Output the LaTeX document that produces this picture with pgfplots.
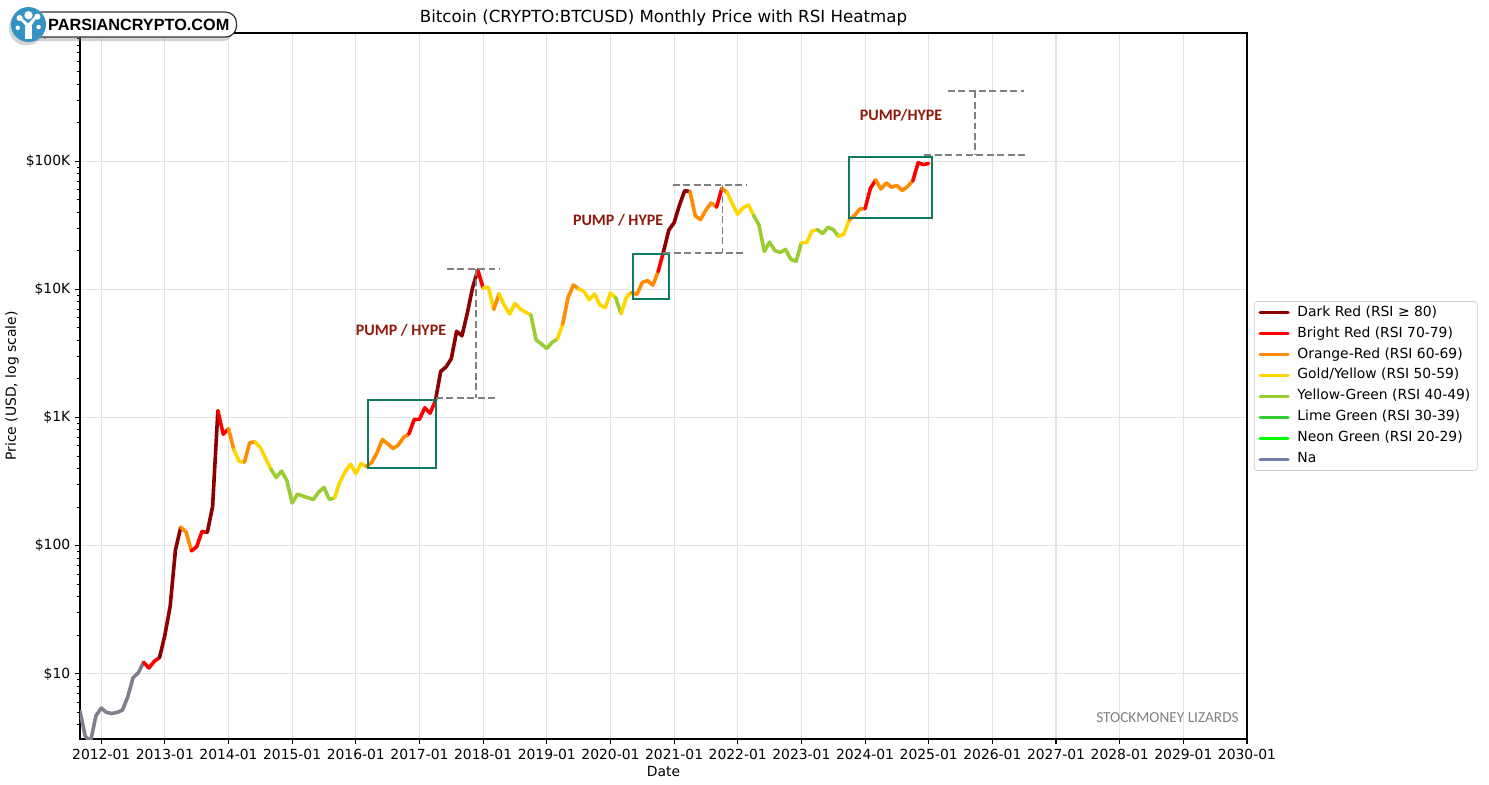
\documentclass[border=0pt]{standalone}
\usepackage{pgfplots}
\pgfplotsset{compat=1.18}
\usepackage{fontspec}
\setmainfont{DejaVu Sans}
\newfontfamily\calib{Carlito}
\newfontfamily\arialf{Liberation Sans}
\usetikzlibrary{shadows}

% RSI colours
\definecolor{rsiDR}{RGB}{139,0,0}
\definecolor{rsiR}{RGB}{255,0,0}
\definecolor{rsiO}{RGB}{255,140,0}
\definecolor{rsiY}{RGB}{255,215,0}
\definecolor{rsiYG}{RGB}{154,205,50}
\definecolor{rsiLG}{RGB}{50,205,50}
\definecolor{rsiNG}{RGB}{0,255,0}
\definecolor{rsiNA}{RGB}{126,128,140}
\definecolor{rsiNAleg}{RGB}{116,126,172}
\definecolor{boxc}{RGB}{16,122,96}
\definecolor{pumpc}{RGB}{140,25,10}
\definecolor{logoblue}{RGB}{52,146,196}

\begin{document}
\begin{tikzpicture}
\path[use as bounding box] (0,0) rectangle (1072.08pt,564.48pt);
\begin{axis}[
    at={(57.6pt,32.4pt)}, anchor=south west,
    width=840.24pt, height=508.32pt, scale only axis,
    ymode=log,
    xmin=2011.667, xmax=2030,
    ymin=3.1, ymax=1e6,
    xtick={2012,2013,...,2030},
    xticklabels={2012-01,2013-01,2014-01,2015-01,2016-01,2017-01,2018-01,2019-01,2020-01,2021-01,2022-01,2023-01,2024-01,2025-01,2026-01,2027-01,2028-01,2029-01,2030-01},
    ytick={10,100,1000,10000,100000,1000000},
    yticklabels={\$10,\$100,\$1K,\$10K,\$100K,\$1M},
    minor ytick={4,5,6,7,8,9,20,30,40,50,60,70,80,90,200,300,400,500,600,700,800,900,2000,3000,4000,5000,6000,7000,8000,9000,20000,30000,40000,50000,60000,70000,80000,90000,200000,300000,400000,500000,600000,700000,800000,900000},
    tick align=outside, tick pos=left,
    major tick length=3.5pt, minor tick length=2pt,
    every major tick/.style={black, line width=0.8pt},
    every minor tick/.style={black, line width=0.6pt},
    axis line style={line width=0.8pt},
    xmajorgrids, ymajorgrids,
    major grid style={black!11, line width=0.8pt},
    title={Bitcoin (CRYPTO:BTCUSD) Monthly Price with RSI Heatmap},
    every axis title/.style={at={(axis description cs:0.5,1.0212)}, anchor=center, font=\fontsize{12}{14}\selectfont},
    xlabel={Date},
    xlabel style={at={(axis description cs:0.5,-0.0467)}, anchor=center},
    ylabel={Price (USD, log scale)},
    ylabel style={at={(axis description cs:-0.0583,0.5)}, anchor=center},
    legend cell align=left,
    legend image code/.code={\draw[#1] (0pt,0pt) -- (20pt,0pt);},
    legend style={at={(axis description cs:1,0.5)}, anchor=west, xshift=5pt,
        draw=black!20, rounded corners=2pt, font=\fontsize{10}{12}\selectfont,
        inner xsep=3pt, inner ysep=1pt, row sep=1.1pt,
        /tikz/every odd column/.append style={column sep=3.5pt},
        nodes={text height=7.5pt, text depth=2.5pt, inner sep=2pt}},
    every axis plot/.append style={line width=2.6pt, line cap=round, line join=round},
]
\addlegendimage{rsiDR, line width=2.6pt}\addlegendentry{Dark Red (RSI ≥ 80)}
\addlegendimage{rsiR, line width=2.6pt}\addlegendentry{Bright Red (RSI 70-79)}
\addlegendimage{rsiO, line width=2.6pt}\addlegendentry{Orange-Red (RSI 60-69)}
\addlegendimage{rsiY, line width=2.6pt}\addlegendentry{Gold/Yellow (RSI 50-59)}
\addlegendimage{rsiYG, line width=2.6pt}\addlegendentry{Yellow-Green (RSI 40-49)}
\addlegendimage{rsiLG, line width=2.6pt}\addlegendentry{Lime Green (RSI 30-39)}
\addlegendimage{rsiNG, line width=2.6pt}\addlegendentry{Neon Green (RSI 20-29)}
\addlegendimage{rsiNAleg, line width=2.6pt}\addlegendentry{Na}

% monthly closes, one run per RSI colour
\addplot[rsiNA, forget plot] coordinates {(2011.667,5.1) (2011.750,3.25) (2011.833,2.97) (2011.917,4.7) (2012.000,5.4) (2012.083,5.0) (2012.167,4.9) (2012.250,5.0) (2012.333,5.2) (2012.417,6.6) (2012.500,9.3) (2012.583,10.2) (2012.667,12.3)};
\addplot[rsiR, forget plot] coordinates {(2012.667,12.3) (2012.750,11.1) (2012.833,12.5) (2012.917,13.4)};
\addplot[rsiDR, forget plot] coordinates {(2012.917,13.4) (2013.000,20) (2013.083,33.5) (2013.167,93) (2013.250,139)};
\addplot[rsiO, forget plot] coordinates {(2013.250,139) (2013.333,128) (2013.417,91)};
\addplot[rsiR, forget plot] coordinates {(2013.417,91) (2013.500,98) (2013.583,129) (2013.667,127)};
\addplot[rsiDR, forget plot] coordinates {(2013.667,127) (2013.750,202) (2013.833,1130)};
\addplot[rsiR, forget plot] coordinates {(2013.833,1130) (2013.917,740) (2014.000,816)};
\addplot[rsiO, forget plot] coordinates {(2014.000,816) (2014.083,562)};
\addplot[rsiY, forget plot] coordinates {(2014.083,562) (2014.167,456) (2014.250,448)};
\addplot[rsiO, forget plot] coordinates {(2014.250,448) (2014.333,635) (2014.417,645)};
\addplot[rsiY, forget plot] coordinates {(2014.417,645) (2014.500,583) (2014.583,480) (2014.667,395)};
\addplot[rsiYG, forget plot] coordinates {(2014.667,395) (2014.750,340) (2014.833,382) (2014.917,322) (2015.000,215) (2015.083,252) (2015.167,244) (2015.250,236) (2015.333,229) (2015.417,262) (2015.500,285) (2015.583,230) (2015.667,236)};
\addplot[rsiY, forget plot] coordinates {(2015.667,236) (2015.750,314) (2015.833,378) (2015.917,432) (2016.000,366) (2016.083,437) (2016.167,414)};
\addplot[rsiO, forget plot] coordinates {(2016.167,414) (2016.250,446) (2016.333,530) (2016.417,672) (2016.500,624) (2016.583,573) (2016.667,609) (2016.750,699) (2016.833,742)};
\addplot[rsiR, forget plot] coordinates {(2016.833,742) (2016.917,964) (2017.000,968) (2017.083,1190) (2017.167,1080) (2017.250,1348)};
\addplot[rsiDR, forget plot] coordinates {(2017.250,1348) (2017.333,2286) (2017.417,2480) (2017.500,2875) (2017.583,4703) (2017.667,4338) (2017.750,6468) (2017.833,10233) (2017.917,14156)};
\addplot[rsiR, forget plot] coordinates {(2017.917,14156) (2018.000,10221)};
\addplot[rsiY, forget plot] coordinates {(2018.000,10221) (2018.083,10397) (2018.167,6973)};
\addplot[rsiO, forget plot] coordinates {(2018.167,6973) (2018.250,9240)};
\addplot[rsiY, forget plot] coordinates {(2018.250,9240) (2018.333,7494) (2018.417,6404) (2018.500,7780) (2018.583,7037) (2018.667,6625) (2018.750,6317)};
\addplot[rsiYG, forget plot] coordinates {(2018.750,6317) (2018.833,4017) (2018.917,3742) (2019.000,3457) (2019.083,3854) (2019.167,4105)};
\addplot[rsiY, forget plot] coordinates {(2019.167,4105) (2019.250,5350)};
\addplot[rsiO, forget plot] coordinates {(2019.250,5350) (2019.333,8574) (2019.417,10817) (2019.500,10085)};
\addplot[rsiY, forget plot] coordinates {(2019.500,10085) (2019.583,9630) (2019.667,8293) (2019.750,9199) (2019.833,7569) (2019.917,7193) (2020.000,9350) (2020.083,8599)};
\addplot[rsiYG, forget plot] coordinates {(2020.083,8599) (2020.167,6438)};
\addplot[rsiY, forget plot] coordinates {(2020.167,6438) (2020.250,8658) (2020.333,9461)};
\addplot[rsiO, forget plot] coordinates {(2020.333,9461) (2020.417,9137) (2020.500,11323) (2020.583,11681) (2020.667,10784) (2020.750,13781)};
\addplot[rsiR, forget plot] coordinates {(2020.750,13781) (2020.833,19625)};
\addplot[rsiDR, forget plot] coordinates {(2020.833,19625) (2020.917,29001) (2021.000,33114) (2021.083,45137) (2021.167,58918) (2021.250,57750)};
\addplot[rsiO, forget plot] coordinates {(2021.250,57750) (2021.333,37332) (2021.417,35040) (2021.500,41626) (2021.583,47166) (2021.667,43790)};
\addplot[rsiR, forget plot] coordinates {(2021.667,43790) (2021.750,61318)};
\addplot[rsiO, forget plot] coordinates {(2021.750,61318) (2021.833,57005)};
\addplot[rsiY, forget plot] coordinates {(2021.833,57005) (2021.917,46306) (2022.000,38483) (2022.083,43193) (2022.167,45538) (2022.250,37714)};
\addplot[rsiYG, forget plot] coordinates {(2022.250,37714) (2022.333,31792) (2022.417,19785) (2022.500,23336) (2022.583,20050) (2022.667,19431) (2022.750,20495) (2022.833,17168) (2022.917,16547) (2023.000,23139)};
\addplot[rsiY, forget plot] coordinates {(2023.000,23139) (2023.083,23147) (2023.167,28478) (2023.250,29268)};
\addplot[rsiYG, forget plot] coordinates {(2023.250,29268) (2023.333,27219) (2023.417,30477) (2023.500,29230) (2023.583,25931)};
\addplot[rsiY, forget plot] coordinates {(2023.583,25931) (2023.667,26967) (2023.750,34667)};
\addplot[rsiO, forget plot] coordinates {(2023.750,34667) (2023.833,37712) (2023.917,42265) (2024.000,42582)};
\addplot[rsiR, forget plot] coordinates {(2024.000,42582) (2024.083,61198) (2024.167,71333)};
\addplot[rsiO, forget plot] coordinates {(2024.167,71333) (2024.250,60636) (2024.333,67491) (2024.417,62678) (2024.500,64619) (2024.583,58969) (2024.667,63329) (2024.750,70215)};
\addplot[rsiR, forget plot] coordinates {(2024.750,70215) (2024.833,97000) (2024.917,94000) (2025.000,96000)};

% annotations
\draw[boxc, line width=1.5pt] (axis cs:2016.19,406) rectangle (axis cs:2017.26,1359);
\draw[boxc, line width=1.5pt] (axis cs:2020.35,8360) rectangle (axis cs:2020.92,19000);
\draw[boxc, line width=1.5pt] (axis cs:2023.75,35900) rectangle (axis cs:2025.05,107000);

\begin{scope}[gray, line width=1.4pt, dash pattern=on 5pt off 2.5pt]
\draw (axis cs:2017.43,14500) -- (axis cs:2018.27,14500);
\draw (axis cs:2017.89,14500) -- (axis cs:2017.89,1410);
\draw (axis cs:2017.26,1410) -- (axis cs:2018.19,1410);
\draw (axis cs:2020.98,64900) -- (axis cs:2022.14,64900);
\draw (axis cs:2021.76,64900) -- (axis cs:2021.76,19100);
\draw (axis cs:2020.83,19100) -- (axis cs:2022.10,19100);
\draw (axis cs:2025.30,351000) -- (axis cs:2026.50,351000);
\draw (axis cs:2025.72,351000) -- (axis cs:2025.72,111000);
\draw (axis cs:2024.93,111000) -- (axis cs:2026.52,111000);
\end{scope}

\node[pumpc, font=\calib\bfseries\fontsize{11.5}{13}\selectfont] at (axis cs:2016.71,4790) {PUMP / HYPE};
\node[pumpc, font=\calib\bfseries\fontsize{11.5}{13}\selectfont] at (axis cs:2020.12,34600) {PUMP / HYPE};
\node[pumpc, font=\calib\bfseries\fontsize{11.5}{13}\selectfont] at (axis cs:2024.565,229000) {PUMP/HYPE};
\node[black!50, anchor=east, inner sep=0pt, font=\calib\fontsize{11}{13}\selectfont] at (axis description cs:0.9931,0.03) {STOCKMONEY LIZARDS};
\end{axis}

% logo badge
\draw[black!80, line width=0.9pt, fill=white, rounded corners=8pt,
      drop shadow={shadow xshift=-2pt, shadow yshift=-3pt, opacity=0.35}]
      (21.6pt,537.8pt) rectangle (170.3pt,555.8pt);
\node[anchor=west, inner sep=0pt, font=\arialf\bfseries\fontsize{11.7}{13}\selectfont] at (34.5pt,546.6pt) {PARSIANCRYPTO.COM};
\fill[logoblue, drop shadow={shadow xshift=-1.5pt, shadow yshift=-2.5pt, opacity=0.35}] (20.5pt,546.8pt) circle (12.6pt);
\begin{scope}[white]
\fill (17.8pt,536.5pt) rectangle (23.3pt,545.5pt);
\fill (18.8pt,545.5pt) -- (14.3pt,550.5pt) -- (15.8pt,551.5pt) -- (20.3pt,547.5pt) -- (24.8pt,552.5pt) -- (26.3pt,551.5pt) -- (22.3pt,545.5pt) -- cycle;
\fill (20.5pt,553.5pt) circle (3pt);
\fill (14.1pt,551.5pt) circle (2.2pt);
\fill (26.9pt,552.5pt) circle (2.2pt);
\fill (12.8pt,544.5pt) circle (1.6pt);
\fill (27.8pt,545pt) circle (1.6pt);
\end{scope}
\end{tikzpicture}
\end{document}
